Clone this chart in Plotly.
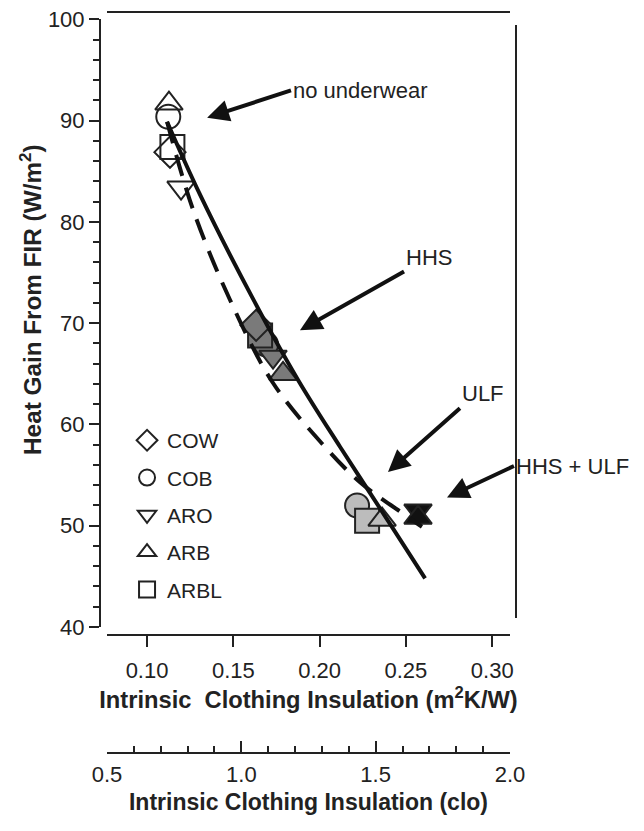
import plotly.graph_objects as go

# ---------------- data (m2K/W, W/m2) ----------------
cond_fill = {"no underwear": "rgba(255,255,255,0)", "HHS": "#7a7a7a",
             "ULF": "#bcbcbc", "HHS + ULF": "#111111"}

cow_x = [0.1133, 0.1632]
cow_y = [86.9, 69.8]
cow_c = ["no underwear", "HHS"]

cob_x = [0.1123, 0.1690, 0.2217]
cob_y = [90.4, 67.9, 52.0]
cob_c = ["no underwear", "HHS", "ULF"]

aro_x = [0.1197, 0.1730, 0.2570]
aro_y = [83.4, 66.7, 51.5]
aro_c = ["no underwear", "HHS", "HHS + ULF"]

arb_x = [0.1127, 0.1788, 0.2362, 0.2570]
arb_y = [91.7, 65.0, 50.6, 50.8]
arb_c = ["no underwear", "HHS", "ULF", "HHS + ULF"]

arbl_x = [0.1147, 0.1655, 0.2275]
arbl_y = [87.4, 68.8, 50.5]
arbl_c = ["no underwear", "HHS", "ULF"]

# fitted lines
solid_x = [0.1116, 0.1307, 0.1608, 0.1875, 0.2118, 0.2362, 0.2611]
solid_y = [89.9, 82.7, 72.6, 64.4, 57.8, 51.4, 44.8]
dash_x = [0.1116, 0.1267, 0.1481, 0.1730, 0.2020, 0.2234, 0.2466, 0.2593]
dash_y = [89.9, 81.2, 72.3, 64.1, 58.0, 54.3, 51.4, 49.9]

y_ticks = [40, 50, 60, 70, 80, 90, 100]
x_ticks = [0.10, 0.15, 0.20, 0.25, 0.30]
clo_ticks = [0.5, 1.0, 1.5, 2.0]

FONT = "Liberation Sans, Arial, sans-serif"
INK = "#222222"

series = [
    ("COW", "diamond", cow_x, cow_y, cow_c, 1),
    ("COB", "circle", cob_x, cob_y, cob_c, 2),
    ("ARO", "triangle-down", aro_x, aro_y, aro_c, 3),
    ("ARB", "triangle-up", arb_x, arb_y, arb_c, 4),
    ("ARBL", "square", arbl_x, arbl_y, arbl_c, 5),
]
draw_order = ["COB", "ARBL", "ARO", "ARB", "COW"]

fig = go.Figure()
lookup = {s[0]: s for s in series}
for name in draw_order:
    nm, sym, xs, ys, cs, rank = lookup[name]
    fig.add_trace(go.Scatter(
        x=xs, y=ys, mode="markers", name=nm, legendrank=rank, legendgroup=nm,
        marker=dict(symbol=sym, size=24, color=[cond_fill[c] for c in cs],
                    line=dict(color=INK, width=2)),
    ))

fig.add_trace(go.Scatter(x=solid_x, y=solid_y, mode="lines", showlegend=False,
                         line=dict(color="#111111", width=4, shape="spline")))
fig.add_trace(go.Scatter(x=dash_x, y=dash_y, mode="lines", showlegend=False,
                         line=dict(color="#111111", width=4, dash="22px,12px", shape="spline")))
# helper so that the clo axis is drawn
fig.add_trace(go.Scatter(x=[None], y=[None], xaxis="x2", yaxis="y", showlegend=False,
                         hoverinfo="skip"))

XD = [0.01683, 0.98558]
fig.update_layout(
    width=644, height=831,
    margin=dict(l=92, r=136, t=4, b=86, autoexpand=False),
    paper_bgcolor="white", plot_bgcolor="white",
    font=dict(family=FONT, size=22, color=INK),
    showlegend=True,
    legend=dict(x=0.065, y=0.4493, xanchor="left", yanchor="top",
                font=dict(size=21, color=INK), bgcolor="rgba(0,0,0,0)",
                tracegroupgap=7, traceorder="grouped"),
    xaxis=dict(domain=XD, range=[0.0768, 0.3103], anchor="free", position=0.15924,
               automargin=False, ticklabeloverflow="allow",
               tickvals=x_ticks, tickformat=".2f", ticks="outside", ticklen=11,
               tickwidth=2, tickcolor=INK, showline=True, linewidth=2, linecolor=INK,
               showgrid=False, zeroline=False, ticklabelstandoff=5,
               title=dict(text="<b>Intrinsic  Clothing Insulation (m<sup>2</sup>K/W)</b>",
                          font=dict(size=23.7), standoff=8)),
    yaxis=dict(domain=[0.17004, 0.98988], range=[40, 100], anchor="free", position=0,
               automargin=False, ticklabeloverflow="allow",
               tickvals=y_ticks, ticks="outside", ticklen=10, tickwidth=2, tickcolor=INK,
               minor=dict(dtick=2, ticks="outside", ticklen=6, tickwidth=2, tickcolor=INK),
               showline=True, linewidth=2, linecolor=INK, showgrid=False, zeroline=False),
    xaxis2=dict(domain=XD, range=[0.5, 2.0], anchor="free", position=0, overlaying="x",
                automargin=False, ticklabeloverflow="allow",
                tickvals=clo_ticks, tickformat=".1f", ticks="inside", ticklen=11,
                tickwidth=2, tickcolor=INK,
                minor=dict(dtick=0.1, ticks="inside", ticklen=6, tickwidth=2, tickcolor=INK),
                showline=True, linewidth=2, linecolor=INK, showgrid=False, zeroline=False,
                ticklabelstandoff=2,
                title=dict(text="<b>Intrinsic Clothing Insulation (clo)</b>",
                           font=dict(size=23), standoff=6)),
)

# y-axis title (placed like the original, a little above the axis centre)
fig.add_annotation(xref="paper", yref="paper", x=-0.166, y=0.6127,
                   text="<b>Heat Gain From FIR (W/m<sup>2</sup>)</b>", textangle=-90,
                   showarrow=False, xanchor="center", yanchor="middle",
                   font=dict(size=24.3, color=INK))

# frame pieces
fig.add_shape(type="line", xref="paper", yref="paper", x0=XD[0], x1=XD[1], y0=1, y1=1,
              line=dict(color=INK, width=2))
fig.add_shape(type="line", xref="paper", yref="paper", x0=1, x1=1, y0=0.1822, y1=0.9825,
              line=dict(color=INK, width=2))

# labelled arrows: text, head (x, y), tail/text anchor (x, y), vertical anchor
notes = [
    ("no underwear", (0.1348, 90.3), (0.1834, 93.0), "middle"),
    ("HHS", (0.1886, 69.3), (0.2489, 75.1), "bottom"),
    ("ULF", (0.2396, 55.3), (0.2813, 61.6), "bottom"),
    ("HHS + ULF", (0.2738, 52.8), (0.3126, 55.9), "middle"),
]
for t, (hx, hy), (tx, ty), ya in notes:
    fig.add_annotation(x=hx, y=hy, ax=tx, ay=ty, axref="x", ayref="y", text=t,
                       xanchor="left", yanchor=ya, font=dict(size=22, color=INK),
                       showarrow=True, arrowhead=2, arrowsize=1.1, arrowwidth=4,
                       arrowcolor="#111111")

fig.write_html("out.html")
